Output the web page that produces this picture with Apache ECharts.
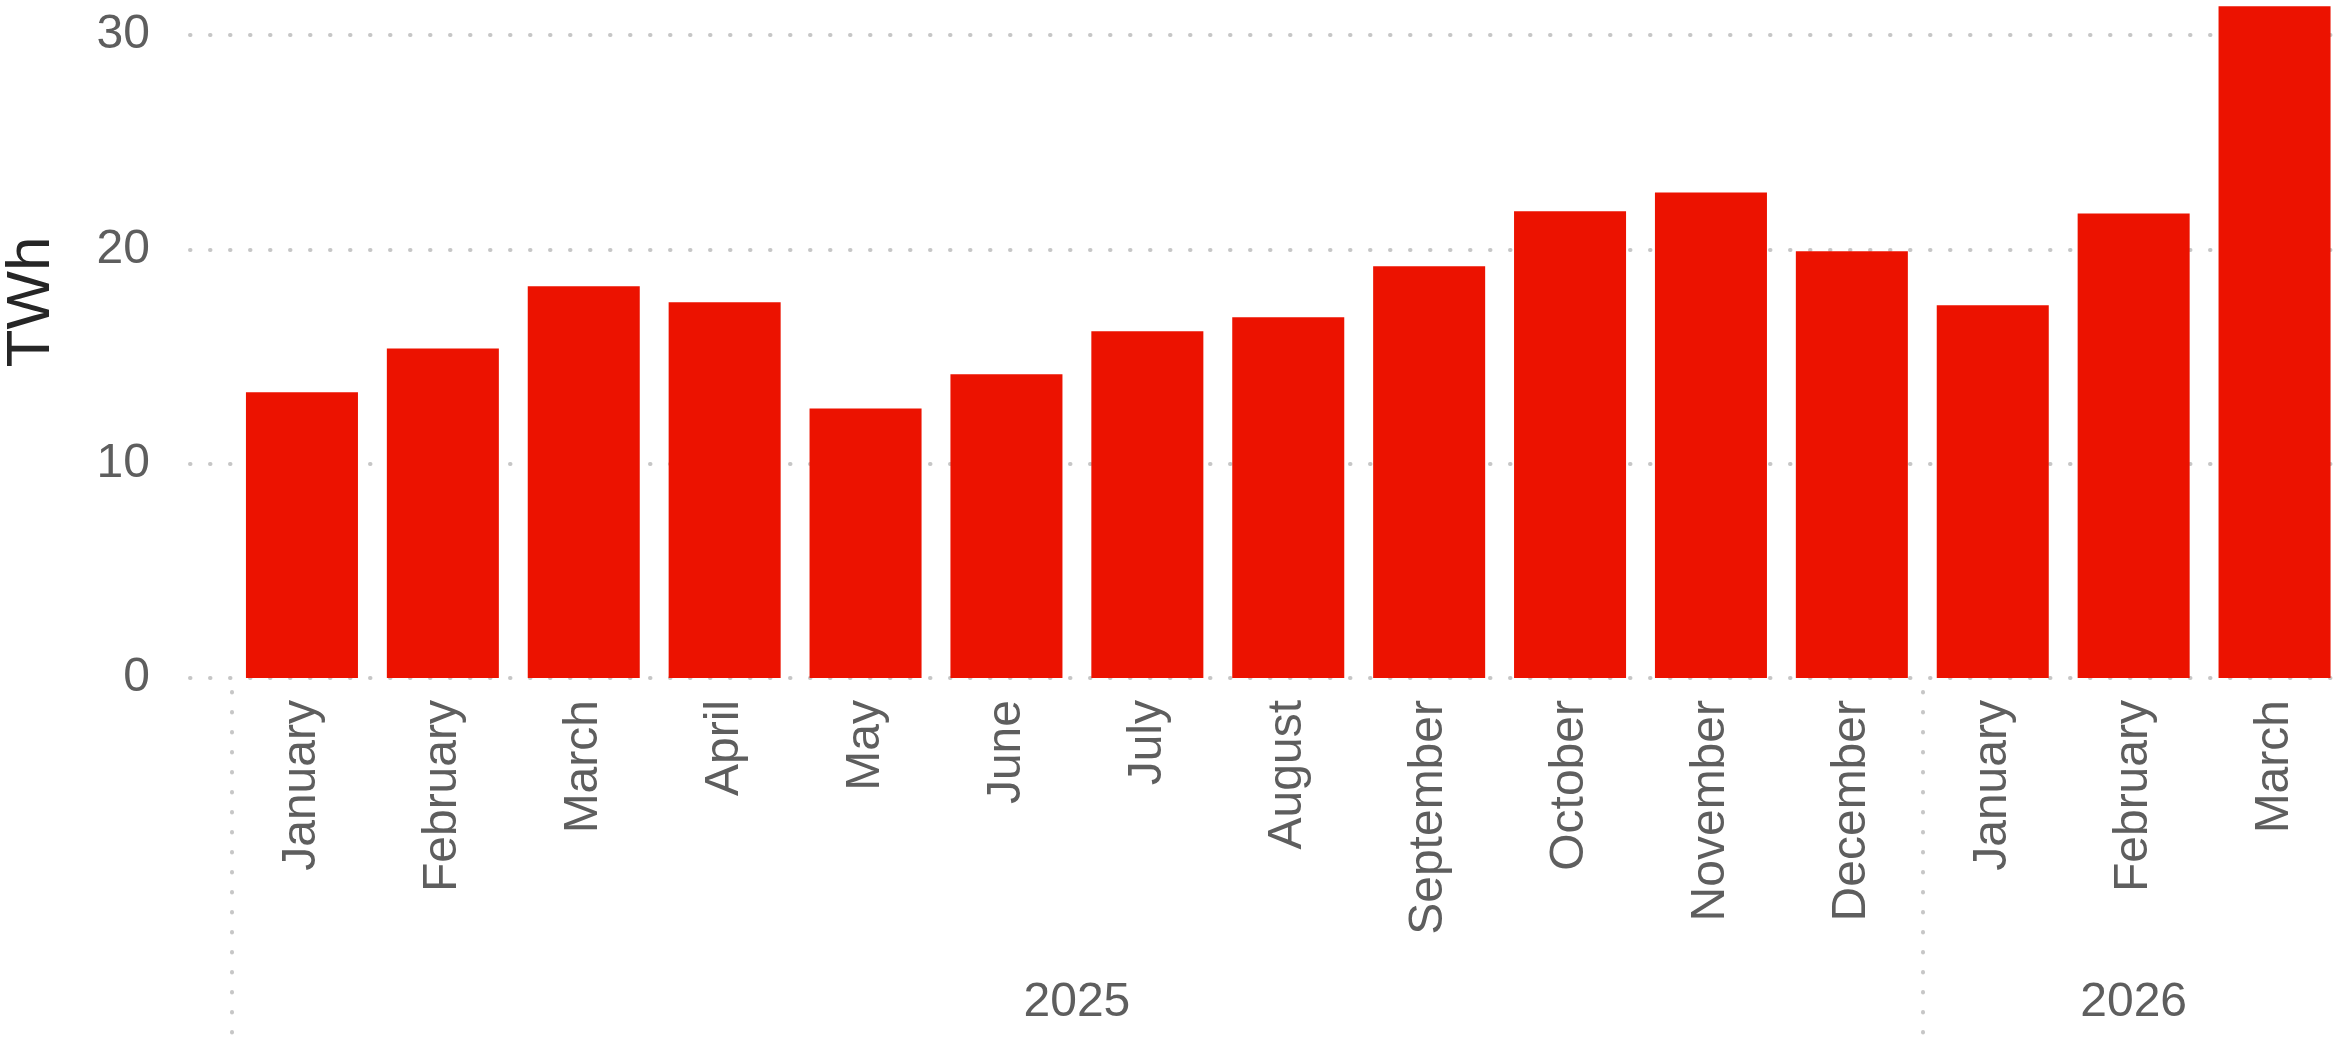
<!DOCTYPE html>
<html>
<head>
<meta charset="utf-8">
<script src="https://cdn.jsdelivr.net/npm/echarts@6/dist/echarts.min.js"></script>
<style>
  html, body { margin: 0; padding: 0; background: #ffffff; }
  #chart { width: 2335px; height: 1038px; }
</style>
</head>
<body>
<div id="chart"></div>
<script>
// Monthly electricity (TWh), January 2025 – March 2026
const months = [
  'January', 'February', 'March', 'April', 'May', 'June',
  'July', 'August', 'September', 'October', 'November', 'December',
  'January', 'February', 'March'
];
const generation = [
  13.33, 15.38, 18.28, 17.53, 12.58, 14.17,
  16.18, 16.83, 19.21, 21.78, 22.66, 19.91,
  17.39, 21.68, 31.34
];
const years = ['2025', '2026'];
const monthsPerYear = [12, 3];
const yTicks = [0, 10, 20, 30];
const unitName = 'TWh';

// Year group boundaries and centres along the month index scale
const yearBounds = [0];
monthsPerYear.forEach(n => yearBounds.push(yearBounds[yearBounds.length - 1] + n));
const yearCentres = years.map((_, i) => (yearBounds[i] + yearBounds[i + 1]) / 2);

const FONT = '"Liberation Sans", Arial, Helvetica, sans-serif';
const dotted = { color: '#c6c6c6', width: 4, type: [0.5, 19.5], cap: 'round' };
const yMax = 31.87;

const chart = echarts.init(document.getElementById('chart'), null, { renderer: 'canvas' });

chart.setOption({
  animation: false,
  backgroundColor: '#ffffff',
  grid: [
    // grid carrying the value scale and dotted gridlines
    { left: 190, right: -10, top: -5, bottom: 360, containLabel: false, outerBoundsMode: 'none' },
    // grid carrying the month bars (runs slightly past the right edge)
    { left: 231.5, right: -10, top: -5, bottom: 360, containLabel: false, outerBoundsMode: 'none' }
  ],
  xAxis: [
    { gridIndex: 0, type: 'category', data: [], show: false },
    {
      gridIndex: 1, type: 'category', data: months, position: 'bottom',
      axisLine: { show: false }, axisTick: { show: false },
      axisLabel: {
        rotate: 90, margin: 22, fontSize: 48, color: '#5e5e5e', fontFamily: FONT
      }
    },
    {
      gridIndex: 1, type: 'value', position: 'bottom', offset: 14,
      min: 0, max: yearBounds[yearBounds.length - 1],
      axisLine: { show: false },
      splitLine: { show: false },
      axisTick: {
        show: true, length: 345, customValues: yearBounds,
        lineStyle: dotted
      },
      axisLabel: {
        customValues: yearCentres, margin: 287, fontSize: 48,
        color: '#5e5e5e', fontFamily: FONT,
        formatter: v => {
          const i = yearCentres.findIndex(c => Math.abs(c - v) < 1e-6);
          return i >= 0 ? years[i] : '';
        }
      }
    }
  ],
  yAxis: [
    {
      gridIndex: 0, type: 'value', min: 0, max: yMax, interval: 10,
      axisLine: { show: false }, axisTick: { show: false },
      axisLabel: {
        customValues: yTicks, margin: 40, fontSize: 48,
        color: '#5e5e5e', fontFamily: FONT
      },
      splitLine: { show: true, lineStyle: dotted }
    },
    {
      gridIndex: 1, type: 'value', min: 0, max: yMax, show: false,
      splitLine: { show: false }
    }
  ],
  graphic: [{
    type: 'text',
    x: 32, y: 302,
    rotation: Math.PI / 2,
    style: {
      text: unitName, fontSize: 62, fontFamily: FONT, fill: '#262626',
      align: 'center', verticalAlign: 'middle'
    }
  }],
  series: [{
    type: 'bar',
    xAxisIndex: 1, yAxisIndex: 1,
    data: generation,
    barCategoryGap: '20.5%',
    itemStyle: { color: '#ec1200' }
  }]
});
</script>
</body>
</html>
